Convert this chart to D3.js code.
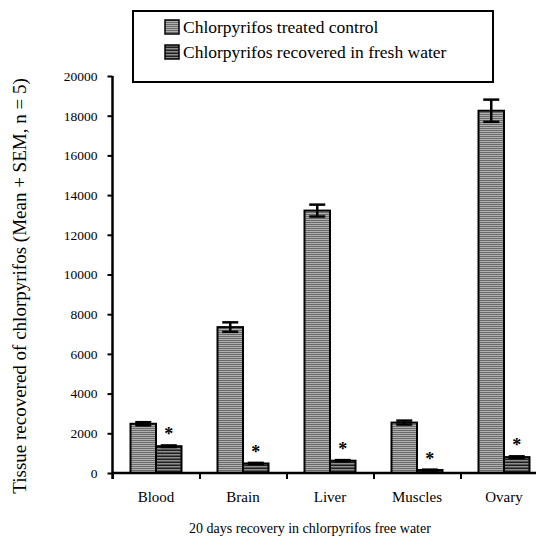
<!DOCTYPE html>
<html>
<head>
<meta charset="utf-8">
<script src="https://cdn.jsdelivr.net/npm/d3@7"></script>
<style>
  body { margin: 0; background: #fff; }
  text { font-family: "Liberation Serif", "Times New Roman", serif; fill: #000; }
</style>
</head>
<body>
<div id="chart"></div>
<script>
// values
var categories = ["Blood", "Brain", "Liver", "Muscles", "Ovary"];
var seriesNames = ["Chlorpyrifos treated control", "Chlorpyrifos recovered in fresh water"];
var control = [2480, 7350, 13220, 2540, 18250];
var controlSem = [80, 240, 300, 100, 560];
var recovered = [1350, 480, 620, 150, 800];
var recoveredSem = [40, 30, 30, 20, 40];
var yTicks = [0, 2000, 4000, 6000, 8000, 10000, 12000, 14000, 16000, 18000, 20000];

var margin = {top: 76, left: 112.5},
  width = 435,
  height = 397;

var svg = d3.select("#chart").append("svg")
  .attr("width", 536)
  .attr("height", 538);

// stripe fills
var defs = svg.append("defs");
var p1 = defs.append("pattern").attr("id", "stripeLight")
  .attr("patternUnits", "userSpaceOnUse").attr("width", 4).attr("height", 2);
p1.append("rect").attr("width", 4).attr("height", 2).attr("fill", "#6a6a6a");
p1.append("rect").attr("y", 1).attr("width", 4).attr("height", 1).attr("fill", "#b0b0b0");
var p2 = defs.append("pattern").attr("id", "stripeDark")
  .attr("patternUnits", "userSpaceOnUse").attr("width", 4).attr("height", 3);
p2.append("rect").attr("width", 4).attr("height", 3).attr("fill", "#8e8e8e");
p2.append("rect").attr("y", 1.5).attr("width", 4).attr("height", 1.5).attr("fill", "#202020");
var fills = ["url(#stripeLight)", "url(#stripeDark)"];

var g = svg.append("g")
  .attr("transform", "translate(" + margin.left + "," + margin.top + ")");

var x = d3.scaleBand().domain(categories).range([0, width])
  .paddingInner(36 / 87).paddingOuter(18 / 87);
var xs = d3.scaleBand().domain([0, 1]).range([0, x.bandwidth()]);
var y = d3.scaleLinear().domain([0, 20000]).range([height, 0]);

// boundaries between groups get the x ticks
var xb = d3.scaleLinear().domain([0, categories.length]).range([0, width]);

var rows = categories.map(function(c, i) {
  return {cat: c, vals: [
    {s: 0, v: control[i], e: controlSem[i], star: false},
    {s: 1, v: recovered[i], e: recoveredSem[i], star: true}
  ]};
});

var groups = g.selectAll(".grp").data(rows).enter().append("g")
  .attr("transform", function(d) { return "translate(" + x(d.cat) + ",0)"; });

groups.selectAll("rect").data(function(d) { return d.vals; }).enter().append("rect")
  .attr("x", function(d) { return xs(d.s); })
  .attr("width", xs.bandwidth())
  .attr("y", function(d) { return y(d.v); })
  .attr("height", function(d) { return height - y(d.v); })
  .attr("fill", function(d) { return fills[d.s]; })
  .attr("stroke", "#000")
  .attr("stroke-width", 2);

// error bars
var eb = groups.selectAll(".err").data(function(d) { return d.vals; }).enter().append("g")
  .attr("stroke", "#000").attr("stroke-width", 2.5);
eb.append("line")
  .attr("x1", function(d) { return xs(d.s) + xs.bandwidth() / 2; })
  .attr("x2", function(d) { return xs(d.s) + xs.bandwidth() / 2; })
  .attr("y1", function(d) { return y(d.v - d.e); })
  .attr("y2", function(d) { return y(d.v + d.e); });
eb.append("line")
  .attr("x1", function(d) { return xs(d.s) + xs.bandwidth() / 2 - 8; })
  .attr("x2", function(d) { return xs(d.s) + xs.bandwidth() / 2 + 8; })
  .attr("y1", function(d) { return y(d.v + d.e); })
  .attr("y2", function(d) { return y(d.v + d.e); });
eb.append("line")
  .attr("x1", function(d) { return xs(d.s) + xs.bandwidth() / 2 - 8; })
  .attr("x2", function(d) { return xs(d.s) + xs.bandwidth() / 2 + 8; })
  .attr("y1", function(d) { return y(d.v - d.e); })
  .attr("y2", function(d) { return y(d.v - d.e); });

// significance stars
groups.selectAll(".star").data(function(d) { return d.vals.filter(function(v) { return v.star; }); })
  .enter().append("text")
  .attr("x", function(d) { return xs(d.s) + xs.bandwidth() / 2; })
  .attr("y", function(d) { return y(d.v + d.e) - 5; })
  .style("text-anchor", "middle")
  .style("font-size", "18px")
  .style("font-weight", "bold")
  .text("*");

// x axis
var xAxis = g.append("g")
  .attr("transform", "translate(0," + height + ")")
  .call(d3.axisBottom(xb).ticks(categories.length).tickSize(6).tickFormat(""));
xAxis.select(".domain").attr("stroke-width", 2.5).attr("d", "M0,0H" + width);
xAxis.selectAll(".tick line").attr("stroke-width", 2);

g.append("g")
  .attr("transform", "translate(0," + height + ")")
  .call(d3.axisBottom(x).tickSize(0).tickPadding(18))
  .attr("font-family", "Liberation Serif")
  .attr("font-size", 15)
  .call(function(a) { a.select(".domain").remove(); });

// y axis
var yAxis = g.append("g")
  .call(d3.axisLeft(y).tickValues(yTicks).tickSize(5).tickPadding(10).tickFormat(d3.format("d")))
  .attr("font-family", "Liberation Serif")
  .attr("font-size", 13.5);
yAxis.select(".domain").attr("stroke-width", 2.5).attr("d", "M0,0V" + (height + 6));
yAxis.selectAll(".tick line").attr("stroke-width", 2);

// axis titles
svg.append("text")
  .attr("transform", "rotate(-90)")
  .attr("x", -286)
  .attr("y", 26)
  .style("text-anchor", "middle")
  .style("font-size", "19px")
  .text("Tissue recovered of chlorpyrifos (Mean + SEM, n = 5)");

svg.append("text")
  .attr("x", 310)
  .attr("y", 533)
  .style("text-anchor", "middle")
  .style("font-size", "14px")
  .text("20 days recovery in chlorpyrifos free water");

// legend
var legend = svg.append("g").attr("transform", "translate(133,11)");
legend.append("rect")
  .attr("width", 360).attr("height", 71)
  .attr("fill", "#fff").attr("stroke", "#000").attr("stroke-width", 2);
var li = legend.selectAll(".li").data(seriesNames).enter().append("g")
  .attr("transform", function(d, i) { return "translate(32," + (9 + i * 25) + ")"; });
li.append("rect")
  .attr("width", 14).attr("height", 14)
  .attr("fill", function(d, i) { return fills[i]; })
  .attr("stroke", "#000").attr("stroke-width", 1.5);
li.append("text")
  .attr("x", 18).attr("y", 13)
  .style("font-size", "17.5px")
  .text(function(d) { return d; });
</script>
</body>
</html>
